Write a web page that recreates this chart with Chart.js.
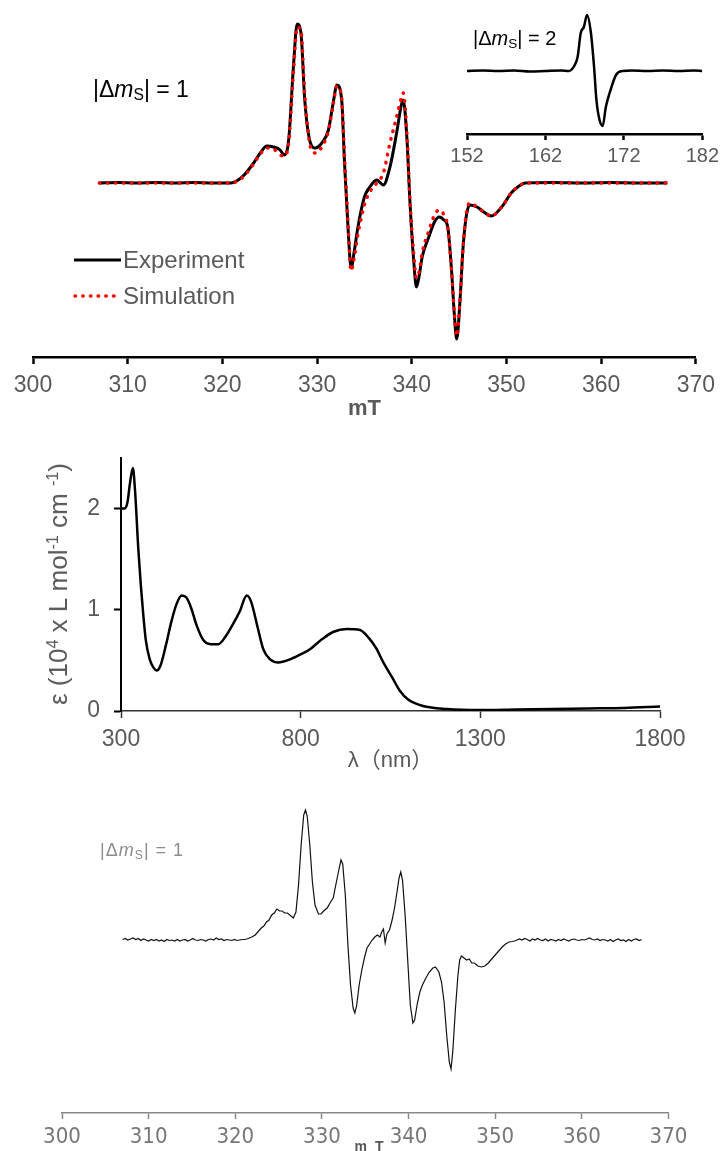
<!DOCTYPE html>
<html>
<head>
<meta charset="utf-8">
<script src="https://cdn.jsdelivr.net/npm/chart.js@4.4.1/dist/chart.umd.min.js"></script>
<style>
  body { margin: 0; background: #fff; }
  #page { position: relative; width: 723px; height: 1151px; overflow: hidden; font-family: "Liberation Sans", Arial, sans-serif; }
  canvas { position: absolute; }
  .txt { position: absolute; white-space: nowrap; line-height: 1; }
  .txt sub { font-size: 0.68em; vertical-align: -0.22em; line-height: 0; }
  .txt sup { font-size: 0.62em; vertical-align: 0.55em; line-height: 0; }
</style>
</head>
<body>
<div id="page">
  <canvas id="eprMain" width="723" height="422" style="left:0;top:0"></canvas>
  <canvas id="eprInset" width="293" height="180" style="left:430px;top:0"></canvas>
  <canvas id="uvVis" width="723" height="345" style="left:0;top:430px"></canvas>
  <canvas id="eprRaw" width="723" height="371" style="left:0;top:780px"></canvas>

  <div class="txt" style="left:93px;top:78px;font-size:23px;color:#000">|&Delta;<i>m</i><sub>S</sub>| = 1</div>
  <div class="txt" style="left:473px;top:28px;font-size:20px;color:#000">|&Delta;<i>m</i><sub>S</sub>| = 2</div>

  <svg style="position:absolute;left:70px;top:250px" width="56" height="56">
    <line x1="4" y1="10" x2="51" y2="10" stroke="#000" stroke-width="3"/>
    <line x1="5" y1="46" x2="51" y2="46" stroke="#f00" stroke-width="3.5" stroke-linecap="round" stroke-dasharray="0.5 7.2"/>
  </svg>
  <div class="txt" style="left:123px;top:248px;font-size:24px;color:#595959">Experiment</div>
  <div class="txt" style="left:123px;top:284px;font-size:24px;color:#595959">Simulation</div>

  <div class="txt" style="left:58px;top:584px;font-size:26px;color:#595959;transform:translate(-50%,-50%) rotate(-90deg)">&epsilon; (10<sup>4</sup> x L mol<sup>-1</sup> cm <sup>-1</sup>)</div>

  <div class="txt" style="left:100px;top:841px;font-size:18px;color:#8c8c8c;letter-spacing:1px">|&Delta;<i>m</i><sub>S</sub>| = 1</div>
  <div class="txt" style="left:370px;top:1146px;font-size:14px;font-weight:bold;color:#555;letter-spacing:2px;transform:translate(-50%,-50%)">m T</div>
</div>
<script>
// fitted EPR spectrum, |dms| = 1 region (mT, arbitrary intensity)
const eprField = [307, 309, 311, 313, 315, 317, 319, 320.9,
  321.5, 322.3, 323.3, 324.0, 324.7, 325.4, 326.1, 326.5, 327.0, 327.5,
  327.9, 328.3, 328.7, 329.3, 329.8, 330.5, 331.2, 331.7, 332.1, 332.6,
  332.9, 333.3, 333.6, 333.9, 334.3, 335.0, 335.5, 336.3, 337.0, 337.7,
  338.4, 338.9, 339.1, 339.5, 339.8, 340.2, 340.5, 340.8, 341.1, 341.8,
  342.4, 342.9, 343.4, 343.8, 344.2, 344.5, 344.75, 345.1, 345.4, 345.7,
  346.1, 346.9, 347.6, 348.4, 349.5, 350.5, 351.2, 352.0,
  355, 358, 361, 364, 367];
const eprExperiment = [0, 0.5, 0, 0.5, 0, 0.5, 0, 0,
  2, 8, 20, 30, 37, 36, 33, 28, 43, 116,
  159, 150, 83, 40, 35, 40, 53, 80, 98, 83,
  20, -50, -85, -70, -45, -14, -5, 3, -2, 16,
  50, 78, 83, 43, -17, -77, -104, -92, -74, -54,
  -39, -34, -37, -44, -87, -132, -156, -117, -67, -37,
  -22, -24, -29, -33, -24, -10, -4, 0,
  0.5, 0, 0.5, 0, 0];
const eprSimulation = [0, 0, 0, 0, 0, 0, 0, 0,
  1.5, 7, 19, 29, 35, 34, 28, 27, 40, 110,
  156, 152, 88, 36, 30, 36, 52, 78, 97, 85,
  25, -45, -88, -76, -52, -22, -10, 0, 10, 40,
  66, 85, 90, 48, -15, -70, -95, -88, -70, -48,
  -32, -27, -32, -44, -87, -130, -153, -117, -67, -35,
  -20, -24, -29, -33, -24, -10, -4, 0,
  0, 0, 0, 0, 0];

// half-field |dms| = 2 signal
const insetField = [152, 154, 156, 158, 160, 162, 164,
  165.0, 165.4, 165.8, 166.1, 166.5, 166.9, 167.3, 167.8, 168.2, 168.5,
  168.9, 169.3, 169.7, 170.3, 171.0, 171.8,
  173, 175, 177, 179, 181, 182];
const insetSignal = [0, 0.5, 0, 0.5, -0.5, 0, 0.5,
  0, 2, 7, 14, 38, 44, 56, 38, 4, -29,
  -49, -55, -36, -19, -4, 0,
  0.5, 0, 0.5, 0, 0.5, 0];

// absorption spectrum (nm, 10^4 L mol-1 cm-1)
const uvWavelength = [300, 310, 318, 325, 333, 339, 348, 355, 362, 369,
  380, 390, 399, 410, 425, 440, 455, 469, 482, 495,
  510, 529, 550, 571, 590, 612, 630, 650, 662, 680,
  696, 715, 738, 770, 800, 826, 860, 890, 928, 965,
  990, 1010, 1030, 1055, 1076, 1100, 1140, 1207, 1300, 1400,
  1500, 1600, 1700, 1800];
const uvEpsilon = [2.00, 2.00, 2.06, 2.25, 2.40, 2.18, 1.61, 1.25, 0.95, 0.70,
  0.51, 0.43, 0.40, 0.45, 0.65, 0.88, 1.06, 1.14, 1.12, 1.02,
  0.85, 0.70, 0.66, 0.66, 0.73, 0.86, 0.98, 1.14, 1.08, 0.83,
  0.61, 0.51, 0.48, 0.51, 0.56, 0.61, 0.71, 0.78, 0.81, 0.80,
  0.72, 0.62, 0.48, 0.33, 0.20, 0.11, 0.05, 0.02, 0.01, 0.015,
  0.02, 0.025, 0.03, 0.045];

// raw EPR trace
const rawField = [307.0, 307.3, 307.6, 307.9, 308.2, 308.5, 308.8, 309.1, 309.4, 309.7,
  310.0, 310.3, 310.6, 310.9, 311.2, 311.5, 311.8, 312.1, 312.4, 312.7,
  313.0, 313.3, 313.6, 313.9, 314.2, 314.5, 314.8, 315.1, 315.4, 315.7,
  316.0, 316.3, 316.6, 316.9, 317.2, 317.5, 317.8, 318.1, 318.4, 318.7,
  319.0, 319.3, 319.6, 319.9, 320.2, 320.5, 320.8, 321.1,
  321.5, 321.9, 322.3, 322.7, 323.0, 323.3, 323.6, 323.9, 324.2, 324.5,
  324.8, 325.1, 325.4, 325.7, 326.0, 326.3, 326.7, 327.0, 327.3, 327.6,
  327.9, 328.1, 328.3, 328.6, 328.9, 329.2, 329.6, 329.9, 330.2, 330.6,
  331.0, 331.3, 331.6, 331.9, 332.2, 332.4, 332.7, 333.0, 333.3, 333.6,
  333.8, 334.0, 334.3, 334.6, 334.9, 335.2, 335.5, 335.8, 336.1, 336.4,
  336.7, 336.9, 337.1, 337.3, 337.5, 337.8, 338.1, 338.4, 338.7, 338.9,
  339.1, 339.3, 339.6, 339.9, 340.2, 340.5, 340.7, 341.0, 341.3, 341.6,
  342.0, 342.4, 342.8, 343.1, 343.5, 343.8, 344.1, 344.4, 344.7, 344.9,
  345.1, 345.4, 345.7, 345.9, 346.1, 346.4, 346.7, 347.0, 347.3, 347.6,
  348.0, 348.4, 348.8, 349.2, 349.6, 350.0, 350.4, 350.8, 351.2, 351.6,
  352.0, 352.4,
  352.8, 353.1, 353.4, 353.7, 354.0, 354.3, 354.6, 354.9, 355.2, 355.5,
  355.8, 356.1, 356.4, 356.7, 357.0, 357.3, 357.6, 357.9, 358.2, 358.5,
  358.8, 359.1, 359.4, 359.7, 360.0, 360.3, 360.6, 360.9, 361.2, 361.5,
  361.8, 362.1, 362.4, 362.7, 363.0, 363.3, 363.6, 363.9, 364.2, 364.5,
  364.8, 365.1, 365.4, 365.7, 366.0, 366.3, 366.6, 366.9];
const rawSignal = [0.5, 1.5, 0, 1, 2, 0.5, 1.5, -0.5, 1, 0,
  -1, 0.5, -0.5, 0.5, -1, 0, -1.5, 0.5, -0.5, 0,
  -1, 0.5, -1, 0, 0.5, -1, 0, 1.5, 0, -0.5,
  0.5, 0, -1, 0.5, 1, 0, 2, 0.5, 1, -0.5,
  0.5, 0, -0.5, 0.5, -0.5, 0, 0.5, 0.5,
  1.5, 3, 5, 9, 12, 14, 18, 20, 25, 27,
  31, 29, 29, 27, 27, 25, 22, 28, 55, 95,
  125, 130, 124, 95, 58, 35, 26, 26, 29, 32,
  38, 42, 55, 68, 80, 76, 45, -5, -45, -68,
  -73, -66, -45, -30, -18, -8, -4, 0, 3, 5,
  3, 8, 11, -3, 6, 10, 20, 33, 50, 62,
  68, 60, 25, -20, -65, -83, -80, -64, -52, -45,
  -38, -32, -28, -27, -32, -42, -62, -95, -122, -129,
  -112, -70, -35, -20, -16, -18, -20, -19, -23, -23,
  -26, -27, -26, -23, -19, -15, -11, -7, -4, -2,
  -1.5, -0.5,
  1, 0, 1.5, 0.5, -1, 1, 0, 1.5, 0, -0.5,
  1, -1, 0.5, 0, -1, 0.5, -0.5, 1, 0, -1,
  0.5, 1, 0, -0.5, 0.5, 0, 1, 2, 0.5, 0,
  1, -0.5, 0.5, 0, -1, 0.5, -1.5, 0, 1, -0.5,
  0, -1.5, 0.5, -1, 0.5, 1, -0.5, 0.5];

const GREY = '#595959';
const FONT = "'Liberation Sans', 'Noto Sans CJK SC', sans-serif";

function pts(xs, ys) {
  return xs.map((x, i) => ({x: x, y: ys[i]}));
}

function baseOptions(padding, scales) {
  return {
    responsive: false,
    animation: false,
    devicePixelRatio: 1,
    layout: {padding: padding},
    plugins: {legend: {display: false}, tooltip: {enabled: false}},
    elements: {point: {radius: 0}, line: {cubicInterpolationMode: 'monotone'}},
    scales: scales
  };
}

Chart.defaults.font.family = FONT;

window.onload = () => {
  new Chart(document.getElementById('eprMain'), {
    type: 'line',
    data: {datasets: [
      {label: 'Simulation', data: pts(eprField, eprSimulation), borderColor: '#ff0000',
       borderWidth: 3.5, borderDash: [0.5, 7.5], borderCapStyle: 'round'},
      {label: 'Experiment', data: pts(eprField, eprExperiment), borderColor: '#000', borderWidth: 3}
    ]},
    options: baseOptions({left: 33, right: 20, top: 5, bottom: 0}, {
      x: {type: 'linear', min: 300, max: 370,
        ticks: {stepSize: 10, color: GREY, font: {size: 23}, padding: 8, maxRotation: 0},
        grid: {drawOnChartArea: false, tickLength: 7, tickColor: '#000', tickWidth: 2.5},
        border: {color: '#000', width: 2.5},
        title: {display: true, text: 'mT', color: GREY, font: {size: 22, weight: 'bold'}, padding: 0},
        afterFit: s => { s.height = 65; }},
      y: {display: false, min: -174, max: 178}
    })
  });

  new Chart(document.getElementById('eprInset'), {
    type: 'line',
    data: {datasets: [
      {data: pts(insetField, insetSignal), borderColor: '#000', borderWidth: 2.5}
    ]},
    options: baseOptions({left: 37, right: 19, top: 5, bottom: 0}, {
      x: {type: 'linear', min: 152, max: 182,
        ticks: {stepSize: 10, color: GREY, font: {size: 20}, padding: 4, maxRotation: 0},
        grid: {drawOnChartArea: false, tickLength: 6, tickColor: '#000', tickWidth: 2.5},
        border: {color: '#000', width: 2.5},
        afterFit: s => { s.height = 46; }},
      y: {display: false, min: -63, max: 66}
    })
  });

  new Chart(document.getElementById('uvVis'), {
    type: 'line',
    data: {datasets: [
      {data: pts(uvWavelength, uvEpsilon), borderColor: '#000', borderWidth: 2.5}
    ]},
    options: baseOptions({left: 0, right: 63, top: 17, bottom: 0}, {
      x: {type: 'linear', min: 300, max: 1800,
        ticks: {stepSize: 500, color: GREY, font: {size: 23}, padding: 8, maxRotation: 0,
                format: {useGrouping: false}},
        grid: {drawOnChartArea: false, tickLength: 7, tickColor: '#333', tickWidth: 1.5},
        border: {color: '#333', width: 1.5},
        title: {display: true, text: 'λ（nm）', color: GREY, font: {size: 22}, padding: {top: 0, bottom: 1}},
        afterFit: s => { s.height = 64; }},
      y: {min: 0, max: 2.5,
        ticks: {stepSize: 1, includeBounds: false, color: GREY, font: {size: 23}, padding: 14},
        grid: {drawOnChartArea: false, tickLength: 7, tickColor: '#000', tickWidth: 2},
        border: {color: '#000', width: 2},
        afterFit: s => { s.width = 121; }}
    })
  });

  new Chart(document.getElementById('eprRaw'), {
    type: 'line',
    data: {datasets: [
      {data: pts(rawField, rawSignal), borderColor: '#111', borderWidth: 1.2, tension: 0, cubicInterpolationMode: 'default'}
    ]},
    options: baseOptions({left: 62, right: 54.5, top: 20, bottom: 0}, {
      x: {type: 'linear', min: 300, max: 370,
        ticks: {stepSize: 10, color: '#777', font: {family: "'Liberation Sans Narrow', 'DejaVu Sans Condensed', sans-serif", size: 22}, padding: 5, maxRotation: 0},
        grid: {drawOnChartArea: false, tickLength: 6, tickColor: '#888', tickWidth: 1.5},
        border: {color: '#888', width: 1.5},
        afterFit: s => { s.height = 38; }},
      y: {display: false, min: -173, max: 140}
    })
  });
};
</script>
</body>
</html>
